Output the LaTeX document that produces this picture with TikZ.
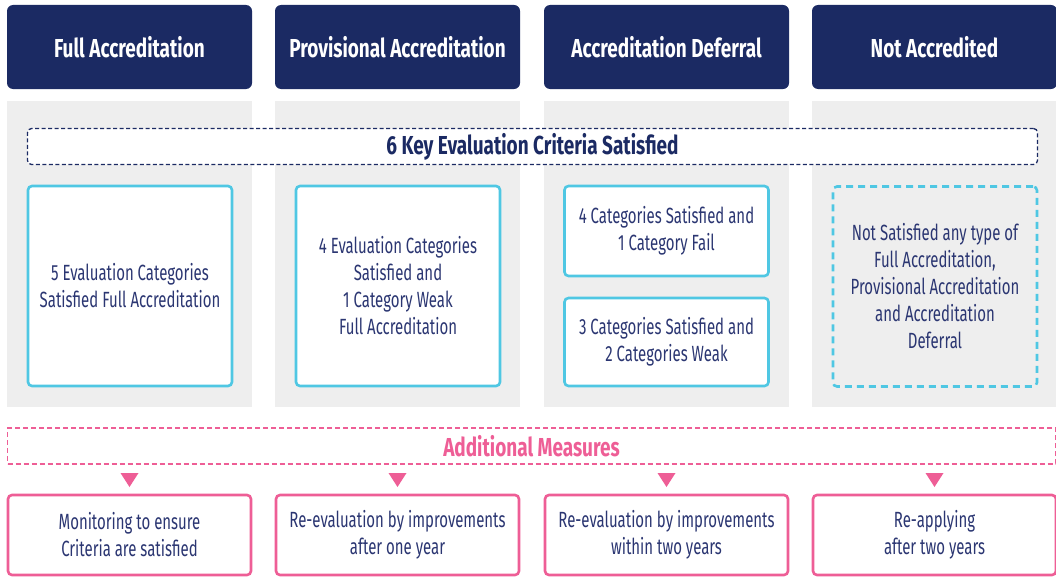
\documentclass[tikz,border=0pt]{standalone}
\usepackage{fontspec}
\setmainfont{Fira Sans}[FakeStretch=0.68]
\newfontfamily\headfont{Fira Sans}[FakeStretch=0.73]
\usetikzlibrary{positioning}

\definecolor{navy}{HTML}{1B2A63}
\definecolor{inkblue}{HTML}{2B3672}
\definecolor{skyline}{HTML}{4FC7E3}
\definecolor{rosepink}{HTML}{EE5E96}
\definecolor{panelgray}{HTML}{EEEEEE}

\begin{document}
\begin{tikzpicture}[x=1pt,y=-1pt]

\tikzset{header/.style = {fill=navy, rounded corners=6pt, minimum width=245pt, minimum height=84pt, text=white, font=\headfont\fontsize{26}{30}\selectfont\bfseries}}
\tikzset{panel/.style = {fill=panelgray, minimum width=245pt, minimum height=306pt}}
\tikzset{crit/.style = {draw=skyline, line width=2.6pt, fill=white, rounded corners=4pt, minimum width=204pt, align=center, text=inkblue, font=\fontsize{22}{27}\selectfont}}
\tikzset{measure/.style = {draw=rosepink, line width=2.6pt, fill=white, rounded corners=4pt, minimum width=243pt, minimum height=80pt, align=center, text=inkblue, font=\fontsize{22}{27}\selectfont}}
\useasboundingbox (0,0) rectangle (1056,578);
%headers
\node[header] (h1) at (129.5,47) {Full Accreditation};
\node[header] (h2) at (397.5,47) {Provisional Accreditation};
\node[header] (h3) at (666.5,47) {Accreditation Deferral};
\node[header] (h4) at (934.5,47) {Not Accredited};
%panels
\node[panel] (p1) at (129.5,254) {};
\node[panel] (p2) at (397.5,254) {};
\node[panel] (p3) at (666.5,254) {};
\node[panel] (p4) at (934.5,254) {};
%key criteria
\node[draw=navy, line width=1.3pt, dash pattern=on 4pt off 2.5pt, fill=white, rounded corners=4pt, minimum width=1010pt, minimum height=36pt, text=navy, font=\headfont\fontsize{26}{30}\selectfont\bfseries] (key) at (532.5,146.5) {6 Key Evaluation Criteria Satisfied};
%criteria boxes
\node[crit, minimum height=200pt] (c1) at (130,286) {5 Evaluation Categories\\Satisfied Full Accreditation};
\node[crit, minimum height=200pt] (c2) at (398,286) {4 Evaluation Categories\\Satisfied and\\1 Category Weak\\Full Accreditation};
\node[crit, minimum height=90pt] (c3a) at (666.5,231) {4 Categories Satisfied and\\1 Category Fail};
\node[crit, minimum height=88pt] (c3b) at (666.5,342) {3 Categories Satisfied and\\2 Categories Weak};
\node[crit, fill=none, dash pattern=on 7pt off 5pt, minimum height=200pt] (c4) at (935,286.5) {Not Satisfied any type of\\Full Accreditation,\\Provisional Accreditation\\and Accreditation\\Deferral};
%additional measures
\node[draw=rosepink, line width=1.3pt, dash pattern=on 5pt off 3pt, minimum width=1048pt, minimum height=36pt, text=rosepink, font=\headfont\fontsize{26}{30}\selectfont\bfseries] (add) at (531.5,446) {Additional Measures};
\foreach \x in {129.5,397.5,666.5,934.5}
  \fill[rosepink] (\x-9,473) -- (\x+9,473) -- (\x,487) -- cycle;
%measure boxes
\node[measure] (m1) at (129.5,535) {Monitoring to ensure\\Criteria are satisfied};
\node[measure] (m2) at (397.5,535) {Re-evaluation by improvements\\after one year};
\node[measure] (m3) at (666.5,535) {Re-evaluation by improvements\\within two years};
\node[measure] (m4) at (934.5,535) {Re-applying\\after two years};

\end{tikzpicture}
\end{document}
